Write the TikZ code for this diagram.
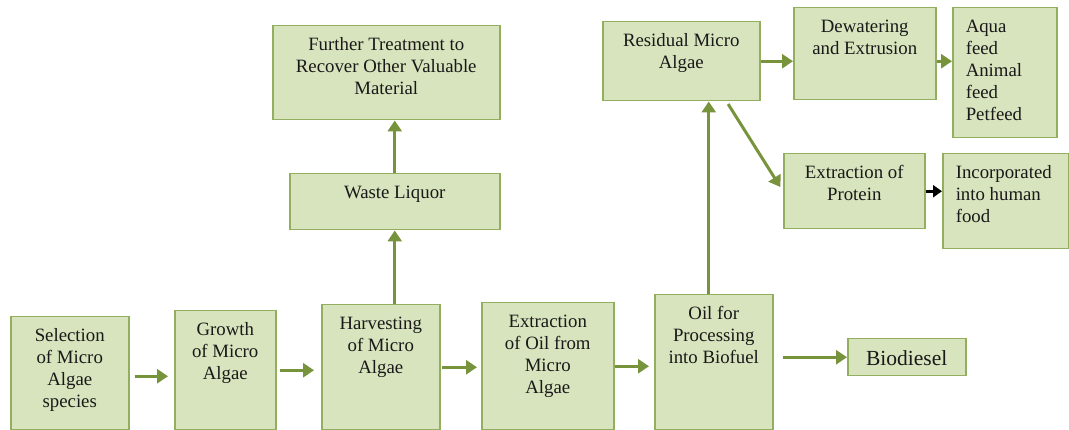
\documentclass[tikz,border=0pt]{standalone}
\usepackage{fontspec}
\setmainfont{Liberation Serif}
\usepackage{xcolor}
\usetikzlibrary{arrows.meta}

\definecolor{boxfill}{HTML}{D7E4BD}
\definecolor{boxline}{HTML}{92AE5E}
\definecolor{arrowgreen}{HTML}{77933C}
\newcommand{\boxtext}[4][\centering]{\parbox[t][#3pt][t]{#2pt}{#1\vspace*{12pt}#4}}

\begin{document}
\begin{tikzpicture}[x=1pt,y=-1pt,
    blk/.style={draw=boxline, fill=boxfill, line width=1.5pt, inner sep=0pt, anchor=north west,
      text=black!90, font=\fontsize{18.8}{22}\selectfont},
    flow/.style={arrowgreen, line width=3pt, -{Triangle[length=11pt,width=14pt]}}]
    \useasboundingbox (0,0) rectangle (1069,430);

    % main line
    \node[blk] (sel)  at (10,316)  {\boxtext{118}{113}{Selection\\of Micro\\Algae\\species}};
    \node[blk] (grow) at (174,310) {\boxtext{101}{119}{Growth\\of Micro\\Algae}};
    \node[blk] (harv) at (321,304) {\boxtext{118}{125}{Harvesting\\of Micro\\Algae}};
    \node[blk] (extr) at (481,302) {\boxtext{132}{127}{Extraction\\of Oil from\\Micro\\Algae}};
    \node[blk] (oil)  at (654,294) {\boxtext{118}{135}{Oil for\\Processing\\into Biofuel}};
    \node[blk, font=\fontsize{21.5}{24}\selectfont] (bio) at (847,338) {\boxtext{118}{37}{Biodiesel}};

    % waste liquor branch
    \node[blk] (wl) at (289,173) {\boxtext{210}{56}{Waste Liquor}};
    \node[blk] (ft) at (272,25)  {\boxtext{227}{94}{Further Treatment to\\Recover Other Valuable\\Material}};

    % residual branch
    \node[blk] (res)  at (602,21)  {\boxtext{157}{79}{Residual Micro\\Algae}};
    \node[blk] (dew)  at (793,7)   {\boxtext{142}{92}{Dewatering\\and Extrusion}};
    \node[blk] (aqua) at (952,7)   {\boxtext[\raggedright\leftskip=13pt]{104}{130}{Aqua\\feed\\Animal\\feed\\Petfeed}};
    \node[blk] (prot) at (783,153) {\boxtext{141}{75}{Extraction of\\Protein}};
    \node[blk] (inc)  at (942,153) {\boxtext[\raggedright\leftskip=13pt]{126}{95}{Incorporated\\into human\\food}};

    % arrows
    \draw[flow, shorten <=5pt, shorten >=6pt] ([yshift=-3pt]sel.east) -- ([yshift=-3pt]sel.east -| grow.west);
    \draw[flow, shorten <=3pt, shorten >=7pt] (grow.east) -- (grow.east -| harv.west);
    \draw[flow, shorten <=1pt, shorten >=4pt] (harv.east) -- (harv.east -| extr.west);
    \draw[flow, shorten >=5pt] (extr.east) -- (extr.east -| oil.west);
    \draw[flow, shorten <=9pt] (bio.west -| oil.east) -- (bio.west);
    \draw[flow] (harv.north -| wl.north) -- (wl.south);
    \draw[flow] (wl.north) -- (wl.north |- ft.south);
    \draw[flow] ([xshift=-5pt]oil.north) -- ([xshift=-5pt]oil.north |- res.south);
    \draw[flow] (res.east) -- (res.east -| dew.west);
    \draw[flow] (res.east -| dew.east) -- (res.east -| aqua.west);
    \draw[flow, shorten <=3pt, shorten >=5pt] ([xshift=-34pt]res.south east) -- (prot.west);
    \draw[black, line width=3pt, -{Triangle[length=9pt,width=12pt]}] (prot.east) -- (prot.east -| inc.west);
\end{tikzpicture}
\end{document}
